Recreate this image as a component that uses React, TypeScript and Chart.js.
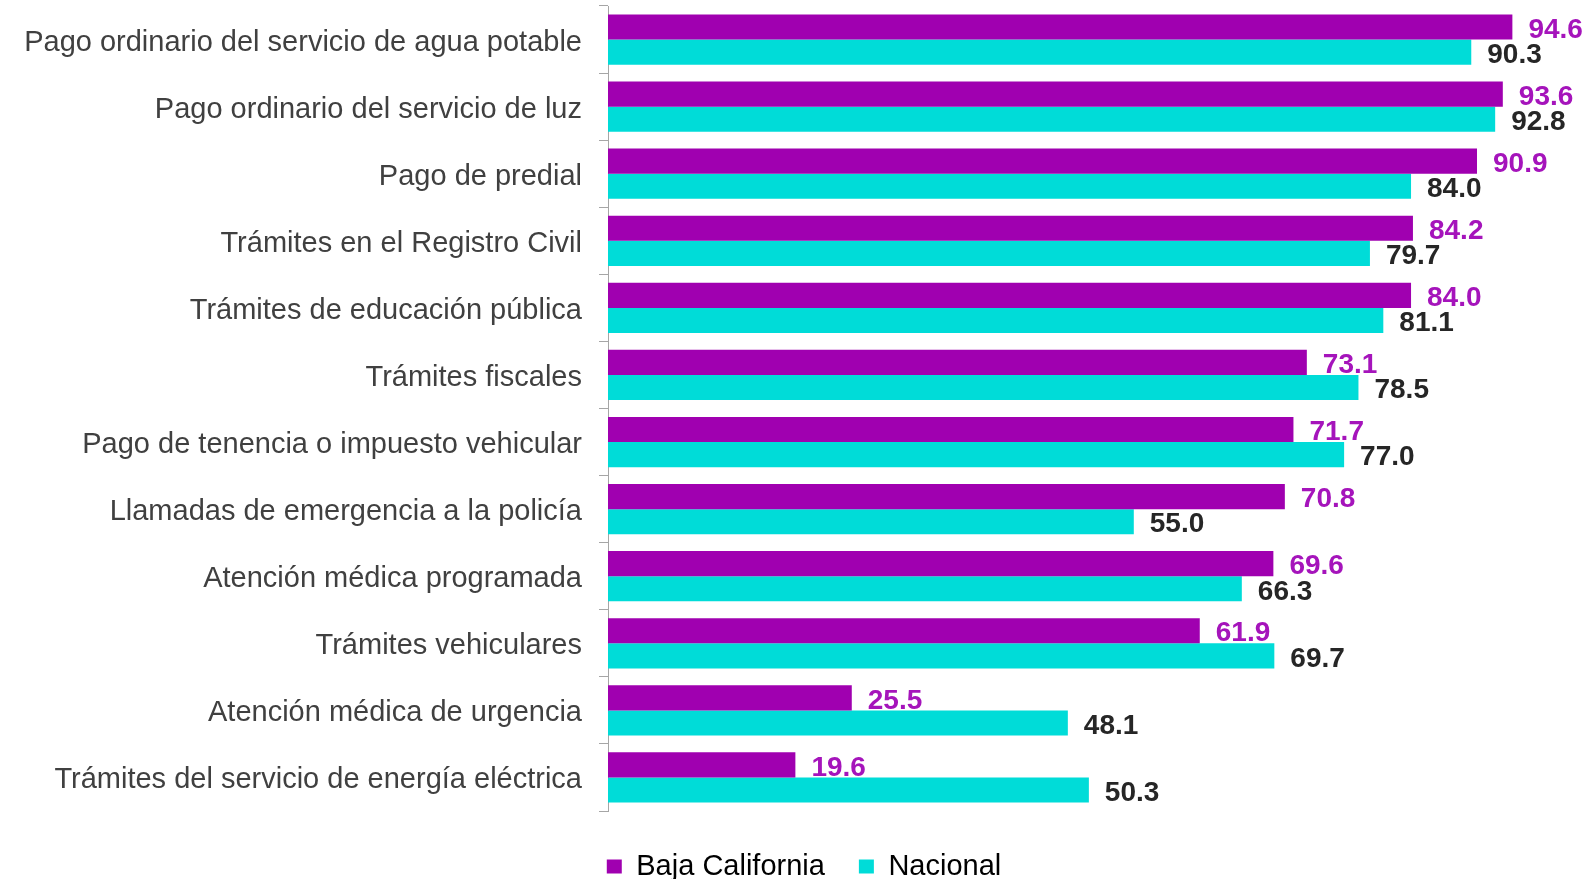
import React, { useEffect, useRef } from "react";
import { Chart, registerables } from "chart.js";

Chart.register(...registerables);

const categories = [
  "Pago ordinario del servicio de agua potable",
  "Pago ordinario del servicio de luz",
  "Pago de predial",
  "Trámites en el Registro Civil",
  "Trámites de educación pública",
  "Trámites fiscales",
  "Pago de tenencia o impuesto vehicular",
  "Llamadas de emergencia a la policía",
  "Atención médica programada",
  "Trámites vehiculares",
  "Atención médica de urgencia",
  "Trámites del servicio de energía eléctrica",
];

const bajaCalifornia = [94.6, 93.6, 90.9, 84.2, 84.0, 73.1, 71.7, 70.8, 69.6, 61.9, 25.5, 19.6];
const nacional = [90.3, 92.8, 84.0, 79.7, 81.1, 78.5, 77.0, 55.0, 66.3, 69.7, 48.1, 50.3];

const seriesNames = ["Baja California", "Nacional"];
const barColors = ["#A000B0", "#00DCD8"];
const labelColors = ["#A514BB", "#262626"];

const FONT = "'Liberation Sans', Arial, sans-serif";

const valueLabels = {
  id: "valueLabels",
  afterDatasetsDraw(chart: any) {
    const ctx = chart.ctx;
    ctx.save();
    ctx.font = `bold 28px ${FONT}`;
    ctx.textAlign = "left";
    ctx.textBaseline = "middle";
    chart.data.datasets.forEach((ds: any, di: number) => {
      const meta = chart.getDatasetMeta(di);
      meta.data.forEach((el: any, i: number) => {
        ctx.fillStyle = labelColors[di];
        ctx.fillText(Number(ds.data[i]).toFixed(1), el.x + 16, el.y + 3);
      });
    });
    ctx.restore();
  },
};

const legendFit = {
  id: "legendFit",
  beforeLayout(chart: any) {
    const lg = chart.legend;
    if (lg && !lg.__patched) {
      const orig = lg.fit.bind(lg);
      lg.fit = function () {
        orig();
        this.height = this.height - 12;
      };
      lg.__patched = true;
    }
  },
  afterLayout(chart: any) {
    const lg = chart.legend;
    if (lg) {
      lg.left = lg.left + 44;
    }
  },
};

export default function App() {
  const ref = useRef<HTMLCanvasElement>(null);
  useEffect(() => {
    document.body.style.margin = "0";
    document.body.style.overflow = "hidden";
    const chart = new Chart(ref.current as HTMLCanvasElement, {
      type: "bar",
      data: {
        labels: categories,
        datasets: [
          {
            label: seriesNames[0],
            data: bajaCalifornia,
            backgroundColor: barColors[0],
            borderWidth: 0,
            categoryPercentage: 0.75,
            barPercentage: 1,
          },
          {
            label: seriesNames[1],
            data: nacional,
            backgroundColor: barColors[1],
            borderWidth: 0,
            categoryPercentage: 0.75,
            barPercentage: 1,
          },
        ],
      },
      options: {
        indexAxis: "y",
        responsive: false,
        animation: false,
        layout: { padding: { top: 6, right: 26, left: 0, bottom: 0 } },
        scales: {
          x: {
            display: true,
            min: 0,
            max: 100,
            grid: { display: false },
            border: { display: false },
            ticks: { display: false },
            afterFit: (s: any) => {
              s.height = 7;
              s.paddingLeft = 0;
              s.paddingRight = 0;
            },
          },
          y: {
            grid: {
              display: true,
              drawOnChartArea: false,
              offset: true,
              tickLength: 9,
              color: "#a6a6a6",
              lineWidth: 1,
            },
            border: { display: true, color: "#a6a6a6", width: 1 },
            ticks: {
              font: { size: 29, family: FONT },
              color: "#404040",
              padding: 17,
              labelOffset: 3,
            },
            afterFit: (s: any) => {
              s.width = 608;
              s.paddingTop = 0;
              s.paddingBottom = 0;
            },
          },
        },
        plugins: {
          legend: {
            position: "bottom",
            labels: {
              font: { size: 29, family: FONT },
              color: "#000000",
              boxWidth: 15,
              boxHeight: 14,
              padding: 34,
            },
          },
          tooltip: { enabled: false },
        },
      },
      plugins: [valueLabels, legendFit],
    });
    return () => chart.destroy();
  }, []);
  return (
    <div style={{ width: 1590, height: 879 }}>
      <canvas ref={ref} width={1590} height={879} />
    </div>
  );
}
